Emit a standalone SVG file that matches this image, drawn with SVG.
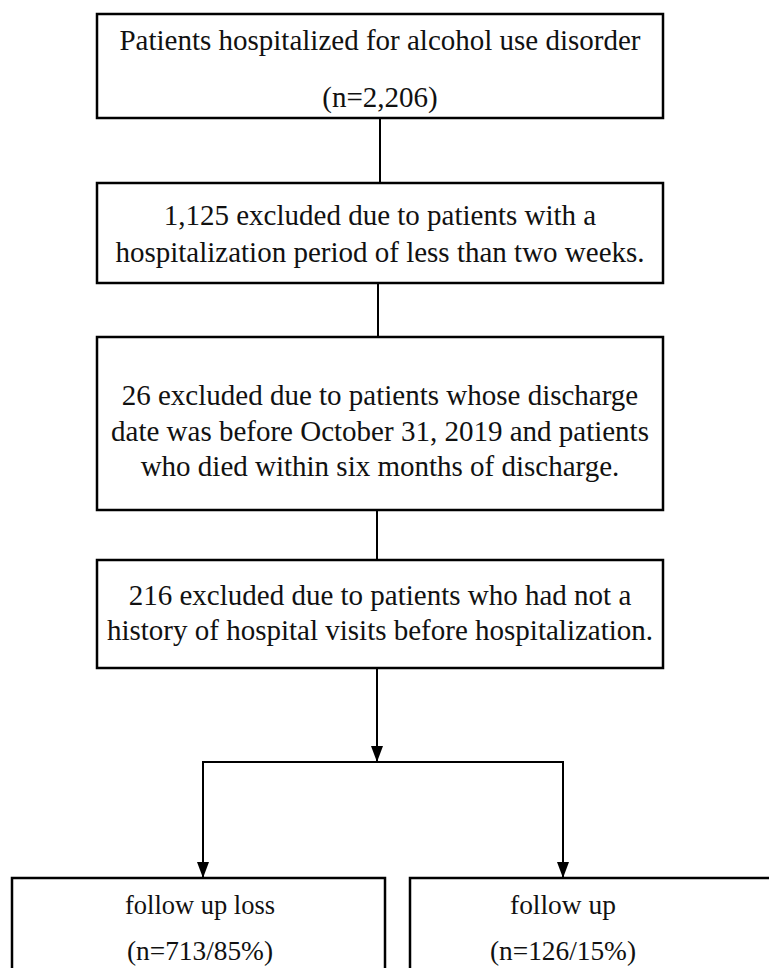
<svg xmlns="http://www.w3.org/2000/svg" width="769" height="968" viewBox="0 0 769 968">
<defs>
<marker id="ah" markerWidth="16" markerHeight="12" refX="16" refY="6" orient="auto" markerUnits="userSpaceOnUse" viewBox="0 0 16 12">
<path d="M0,0 L16,6 L0,12 Z" fill="#000"/>
</marker>
</defs>
<style>
.box{fill:#fff;stroke:#000;stroke-width:2.5}
.t{font-family:"Liberation Serif","Times New Roman",serif;font-size:29px;fill:#111;text-anchor:middle}
.b{font-family:"Liberation Serif","Times New Roman",serif;font-size:28px;fill:#111;text-anchor:middle}
.c{stroke:#000;stroke-width:2;fill:none}
</style>
<rect width="769" height="968" fill="#fff"/>
<g id="connectors">
<line class="c" x1="380" y1="118" x2="380" y2="183"/>
<line class="c" x1="378" y1="283" x2="378" y2="337"/>
<line class="c" x1="377" y1="510" x2="377" y2="560"/>
<line class="c" x1="377" y1="668" x2="377" y2="762" marker-end="url(#ah)"/>
<line class="c" x1="203" y1="762" x2="563" y2="762"/>
<line class="c" x1="203" y1="761" x2="203" y2="878" marker-end="url(#ah)"/>
<line class="c" x1="563" y1="761" x2="563" y2="878" marker-end="url(#ah)"/>
</g>
<g id="n1">
<rect class="box" x="97" y="14" width="566" height="104"/>
<text class="t" x="380" y="50">Patients hospitalized for alcohol use disorder</text>
<text class="t" x="380" y="107">(n=2,206)</text>
</g>
<g id="n2">
<rect class="box" x="97" y="183" width="566" height="100"/>
<text class="t" x="380" y="225">1,125 excluded due to patients with a</text>
<text class="t" x="380" y="262">hospitalization period of less than two weeks.</text>
</g>
<g id="n3">
<rect class="box" x="97" y="337" width="566" height="173"/>
<text class="t" x="380" y="405">26 excluded due to patients whose discharge</text>
<text class="t" x="380" y="441">date was before October 31, 2019 and patients</text>
<text class="t" x="380" y="476">who died within six months of discharge.</text>
</g>
<g id="n4">
<rect class="box" x="97" y="560" width="566" height="108"/>
<text class="t" x="380" y="605">216 excluded due to patients who had not a</text>
<text class="t" x="380" y="640">history of hospital visits before hospitalization.</text>
</g>
<g id="n5">
<rect class="box" x="12" y="878" width="373" height="100"/>
<text class="b" x="200" y="914" textLength="150" lengthAdjust="spacingAndGlyphs">follow up loss</text>
<text class="b" x="200" y="960" textLength="146" lengthAdjust="spacingAndGlyphs">(n=713/85%)</text>
</g>
<g id="n6">
<rect class="box" x="410" y="878" width="370" height="100"/>
<text class="b" x="563" y="914" textLength="106" lengthAdjust="spacingAndGlyphs">follow up</text>
<text class="b" x="563" y="960" textLength="146" lengthAdjust="spacingAndGlyphs">(n=126/15%)</text>
</g>
</svg>
